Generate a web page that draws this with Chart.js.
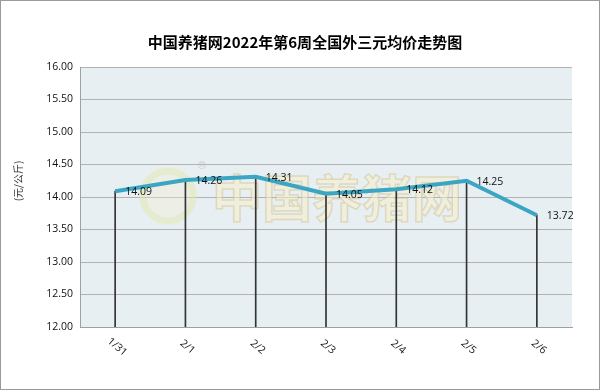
<!DOCTYPE html>
<html>
<head>
<meta charset="utf-8">
<script src="https://cdn.jsdelivr.net/npm/chart.js@4"></script>
<style>
  html, body { margin: 0; padding: 0; background: #fff; }
  canvas { display: block; }
</style>
</head>
<body>
<canvas id="chart" width="600" height="390"></canvas>
<script>
// weekly price data
const days = ['1/31', '2/1', '2/2', '2/3', '2/4', '2/5', '2/6'];
const prices = [14.09, 14.26, 14.31, 14.05, 14.12, 14.25, 13.72];
const yMin = 12;
const yMax = 16;
const yStep = 0.5;
const titleText = '中国养猪网2022年第6周全国外三元均价走势图';
const unitText = '(元/公斤)';
const markText = '中国养猪网';

// background, border, title, watermark, labels
const decor = {
  id: 'decor',
  beforeDraw(chart) {
    const { ctx, chartArea: a } = chart;
    ctx.save();
    ctx.fillStyle = '#fff';
    ctx.fillRect(0, 0, chart.width, chart.height);
    ctx.fillStyle = '#e8eff3';
    ctx.fillRect(a.left, a.top, a.right - a.left, a.bottom - a.top);
    // title, centred on the whole picture
    ctx.fillStyle = '#000';
    ctx.font = 'bold 15px "Noto Sans CJK SC"';
    ctx.textAlign = 'center';
    ctx.textBaseline = 'middle';
    ctx.fillText(titleText, 305, 42);
    ctx.restore();
  },
  beforeDatasetsDraw(chart) {
    const { ctx } = chart;
    ctx.save();
    // faint logo ring
    ctx.strokeStyle = 'rgba(226, 232, 175, 0.55)';
    ctx.lineWidth = 7;
    ctx.beginPath();
    ctx.arc(168, 196, 25, 0, Math.PI * 2);
    ctx.stroke();
    ctx.fillStyle = 'rgba(245, 240, 205, 0.35)';
    ctx.beginPath();
    ctx.arc(168, 196, 21, 0, Math.PI * 2);
    ctx.fill();
    ctx.fillStyle = 'rgba(190, 190, 190, 0.7)';
    ctx.font = '11px "DejaVu Sans"';
    ctx.textAlign = 'center';
    ctx.textBaseline = 'middle';
    ctx.fillText('®', 202, 166);
    // faint site name
    ctx.font = 'bold 50px "Noto Sans CJK SC"';
    ctx.textAlign = 'left';
    ctx.fillStyle = 'rgba(248, 238, 200, 0.5)';
    ctx.strokeStyle = 'rgba(205, 188, 140, 0.45)';
    ctx.lineWidth = 1.5;
    ctx.fillText(markText, 212, 198);
    ctx.strokeText(markText, 212, 198);
    ctx.restore();
  },
  afterDatasetsDraw(chart) {
    const { ctx, scales: { x, y } } = chart;
    ctx.save();
    ctx.fillStyle = '#111';
    ctx.font = '10.5px "Open Sans"';
    ctx.textAlign = 'left';
    ctx.textBaseline = 'middle';
    prices.forEach((v, i) => {
      ctx.fillText(v.toFixed(2), x.getPixelForValue(i) + 10, y.getPixelForValue(v) + 1);
    });
    // slanted category labels
    ctx.textAlign = 'center';
    days.forEach((d, i) => {
      ctx.save();
      ctx.translate(x.getPixelForValue(i) + 2, 347);
      ctx.rotate(40 * Math.PI / 180);
      ctx.fillText(d, 0, 0);
      ctx.restore();
    });
    // unit label on the left
    ctx.save();
    ctx.translate(18, 181);
    ctx.rotate(-Math.PI / 2);
    ctx.fillStyle = '#333';
    ctx.font = '10px "Noto Sans CJK SC"';
    ctx.fillText(unitText, 0, 0);
    ctx.restore();
    ctx.restore();
  },
  afterDraw(chart) {
    const { ctx } = chart;
    ctx.save();
    ctx.strokeStyle = '#9a9a9a';
    ctx.lineWidth = 1;
    ctx.strokeRect(0.5, 0.5, chart.width - 1, chart.height - 1);
    ctx.restore();
  }
};

new Chart(document.getElementById('chart'), {
  type: 'bar',
  data: {
    labels: days,
    datasets: [
      {
        type: 'line',
        data: prices,
        borderColor: '#3ba6c3',
        borderWidth: 4,
        pointRadius: 0,
        tension: 0,
        order: 0
      },
      {
        // thin drop lines from each point to the axis
        type: 'bar',
        data: prices,
        backgroundColor: '#333',
        barThickness: 1,
        order: 1
      }
    ]
  },
  options: {
    responsive: false,
    animation: false,
    devicePixelRatio: 1,
    layout: { padding: { left: 0, right: 28, top: 67, bottom: 0 } },
    plugins: {
      legend: { display: false },
      tooltip: { enabled: false },
      title: { display: false }
    },
    scales: {
      x: {
        offset: true,
        grid: { display: false },
        border: { display: true, color: '#a0a0a0' },
        ticks: { display: false },
        afterFit(s) { s.height = 63; }
      },
      y: {
        min: yMin,
        max: yMax,
        grid: { color: '#b2b2b2', drawTicks: false },
        border: { color: '#a0a0a0' },
        ticks: {
          stepSize: yStep,
          padding: 7,
          color: '#111',
          font: { family: '"Open Sans"', size: 10.5 },
          callback: v => v.toFixed(2)
        },
        afterFit(s) { s.width = 80; }
      }
    }
  },
  plugins: [decor]
});
</script>
</body>
</html>
